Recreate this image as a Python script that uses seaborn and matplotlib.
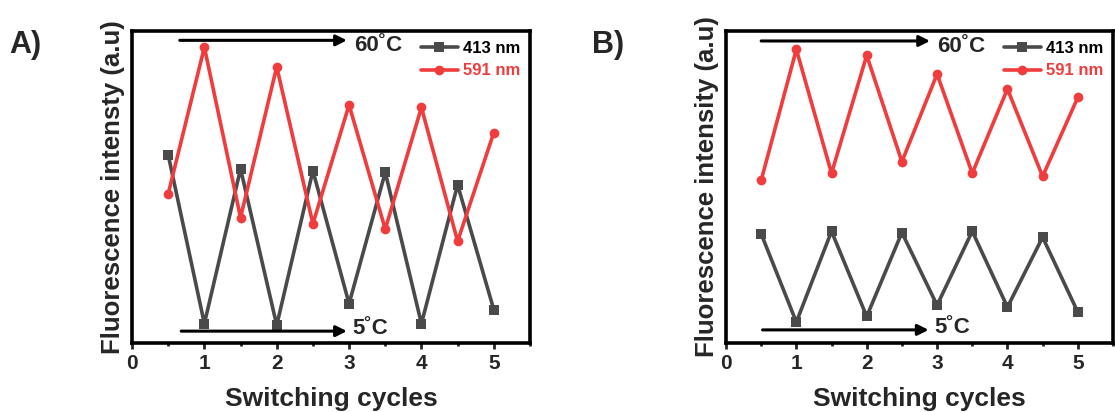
import matplotlib
matplotlib.use("Agg")
import matplotlib.pyplot as plt
from matplotlib import font_manager as fm
import seaborn as sns
import pandas as pd

cycles = [0.5, 1, 1.5, 2, 2.5, 3, 3.5, 4, 4.5, 5]
a_413 = [60.3, 6.2, 55.8, 5.7, 55.2, 12.6, 54.7, 6.2, 50.7, 10.7]
a_591 = [47.8, 94.8, 40.2, 88.5, 38.2, 76.3, 36.5, 75.5, 32.6, 67.4]
b_413 = [35.0, 6.7, 35.8, 8.5, 35.4, 12.1, 35.8, 11.5, 33.9, 9.9]
b_591 = [52.1, 94.1, 54.4, 92.2, 58.1, 86.2, 54.4, 81.4, 53.4, 78.7]
series_names = ["413 nm", "591 nm"]
panel_labels = ["A)", "B)"]
ylabels = ["Fluorescence intensty (a.u)", "Fluorescence intensity (a.u)"]
xlabel = "Switching cycles"
hot_label = "60˚C"
cold_label = "5˚C"

sns.set_style("ticks")

prefs = ['Liberation Sans', 'Arimo', 'Roboto', 'Open Sans', 'Noto Sans', 'Lato', 'DejaVu Sans']
chosen = 'DejaVu Sans'
for name in prefs:
    ok = any(f.name == name and (isinstance(f.weight, int) and f.weight >= 600 or
                                 str(f.weight) in ('bold', 'heavy', 'black', 'semibold', 'demibold', 'extra bold'))
             for f in fm.fontManager.ttflist)
    if ok:
        chosen = name
        break
plt.rcParams['font.family'] = [chosen, 'DejaVu Sans']
plt.rcParams['font.weight'] = 'bold'
plt.rcParams['axes.labelweight'] = 'bold'

GRAY = "#4a4a4a"
RED = "#f03c3c"

fig = plt.figure(figsize=(11.15, 4.12), dpi=100)
axA = fig.add_axes([0.1184, 0.1675, 0.3569, 0.7573])
axB = fig.add_axes([0.6511, 0.1675, 0.3471, 0.7573])

panels = [
    (axA, a_413, a_591, (0.66, 2.97, 97.0), (0.68, 2.97, 3.8)),
    (axB, b_413, b_591, (0.50, 2.90, 96.8), (0.52, 2.88, 4.2)),
]

for i, (ax, s413, s591, top_arrow, bot_arrow) in enumerate(panels):
    df = pd.DataFrame({"x": cycles * 2,
                       "y": s413 + s591,
                       "series": [series_names[0]] * len(cycles) + [series_names[1]] * len(cycles)})
    sns.lineplot(data=df[df.series == series_names[0]], x="x", y="y", ax=ax,
                 color=GRAY, marker="s", markersize=6.5, markeredgewidth=0,
                 linewidth=2.6, label=series_names[0])
    sns.lineplot(data=df[df.series == series_names[1]], x="x", y="y", ax=ax,
                 color=RED, marker="o", markersize=7, markeredgewidth=0,
                 linewidth=2.6, label=series_names[1])
    ax.set_xlim(0, 5.5)
    ax.set_ylim(0, 100)
    ax.set_xticks([0, 1, 2, 3, 4, 5])
    ax.set_xticks([0.5, 1.5, 2.5, 3.5, 4.5, 5.5], minor=True)
    ax.set_yticks([])
    ax.tick_params(axis='x', which='major', direction='out', length=4, width=2,
                   labelsize=15, pad=4)
    ax.tick_params(axis='x', which='minor', direction='out', length=2.5, width=2)
    for lab in ax.get_xticklabels():
        lab.set_fontweight('bold')
    for sp in ax.spines.values():
        sp.set_linewidth(2.6)
        sp.set_color("black")
        sp.set_visible(True)
    ax.set_xlabel(xlabel, fontsize=19, fontweight='bold', labelpad=10)
    ax.set_ylabel(ylabels[i], fontsize=18.5, fontweight='bold', labelpad=5)

    x0, x1, yy = top_arrow
    ax.annotate("", xy=(x1, yy), xytext=(x0, yy),
                arrowprops=dict(arrowstyle="-|>", color="black", lw=2.2,
                                mutation_scale=16, shrinkA=0, shrinkB=0))
    ax.text(x1 + 0.1, yy - 1.8, hot_label, fontsize=16, fontweight='bold',
            ha='left', va='center')
    x0, x1, yy = bot_arrow
    ax.annotate("", xy=(x1, yy), xytext=(x0, yy),
                arrowprops=dict(arrowstyle="-|>", color="black", lw=2.2,
                                mutation_scale=16, shrinkA=0, shrinkB=0))
    ax.text(x1 + 0.08, yy + 0.8, cold_label, fontsize=16, fontweight='bold',
            ha='left', va='center')

    leg = ax.legend(loc='upper right', frameon=False,
                    handlelength=2.2, handletextpad=0.3, borderaxespad=0.4,
                    labelspacing=0.45, borderpad=0.2,
                    prop={'weight': 'bold', 'size': 12})
    for txt, col in zip(leg.get_texts(), ["black", RED]):
        txt.set_color(col)

    fig.text(ax.get_position().x0 - (0.110 if i == 0 else 0.120), 0.89,
             panel_labels[i], fontsize=22, fontweight='bold', ha='left', va='center')

fig.savefig("out.png", dpi=100)
